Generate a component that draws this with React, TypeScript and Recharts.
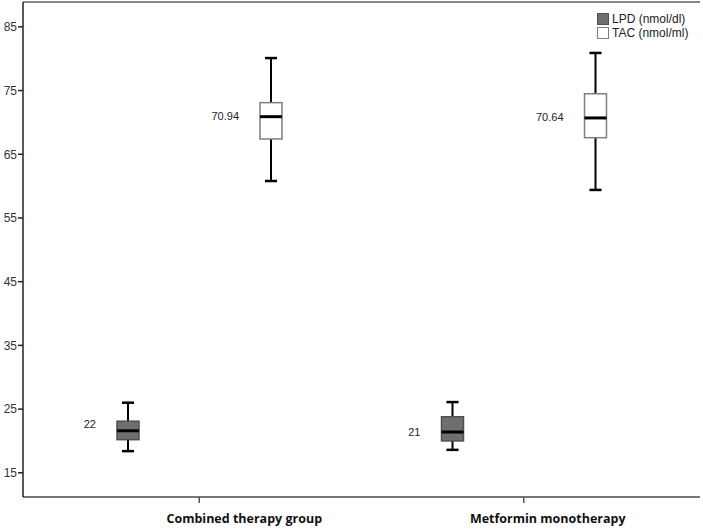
import React from "react"
import {
  ComposedChart,
  Bar,
  XAxis,
  YAxis,
  Legend,
  ReferenceLine,
} from "recharts"

// groups and box plot statistics
const groups = ["Combined therapy group", "Metformin monotherapy"]

const lpdMin = [18.4, 18.6]
const lpdQ1 = [20.2, 20.0]
const lpdMedian = [21.6, 21.4]
const lpdQ3 = [23.1, 23.8]
const lpdMax = [26.0, 26.1]
const lpdLabels = ["22", "21"]

const tacMin = [60.8, 59.4]
const tacQ1 = [67.4, 67.6]
const tacMedian = [70.9, 70.7]
const tacQ3 = [73.1, 74.5]
const tacMax = [80.1, 80.9]
const tacLabels = ["70.94", "70.64"]

const yTicks = [15, 25, 35, 45, 55, 65, 75, 85]
const yDomain = [11.2, 88.9]

const series = [
  { key: "lpd", name: "LPD (nmol/dl)", fill: "#6f6f6f", stroke: "#505050" },
  { key: "tac", name: "TAC (nmol/ml)", fill: "#ffffff", stroke: "#7f7f7f" },
]

const data = groups.map((g, i) => ({
  group: g,
  lpd: [lpdMin[i], lpdMax[i]],
  tac: [tacMin[i], tacMax[i]],
  lpdStats: { min: lpdMin[i], q1: lpdQ1[i], med: lpdMedian[i], q3: lpdQ3[i], max: lpdMax[i], label: lpdLabels[i] },
  tacStats: { min: tacMin[i], q1: tacQ1[i], med: tacMedian[i], q3: tacQ3[i], max: tacMax[i], label: tacLabels[i] },
}))

// label offsets from the tick (the original places them off-centre)
const labelShift = [45, 24]

function makeBoxShape(statsKey: string, fill: string, stroke: string, labelDy: number[]) {
  return (props: any) => {
    const { x, y, width, height, payload, index } = props
    const s = payload[statsKey]
    const top = Math.min(y, y + height)
    const h = Math.abs(height)
    const pxPer = h / (s.max - s.min)
    const toY = (v: number) => top + (s.max - v) * pxPer
    const cx = x + width / 2
    const capW = width * 0.55
    const yQ1 = toY(s.q1)
    const yQ3 = toY(s.q3)
    const yMed = toY(s.med)
    return (
      <g>
        <line x1={cx} x2={cx} y1={top} y2={yQ3} stroke="#000" strokeWidth={2} />
        <line x1={cx} x2={cx} y1={yQ1} y2={top + h} stroke="#000" strokeWidth={2} />
        <line x1={cx - capW / 2} x2={cx + capW / 2} y1={top} y2={top} stroke="#000" strokeWidth={2.5} />
        <line x1={cx - capW / 2} x2={cx + capW / 2} y1={top + h} y2={top + h} stroke="#000" strokeWidth={2.5} />
        <rect x={x} y={yQ3} width={width} height={yQ1 - yQ3} fill={fill} stroke={stroke} strokeWidth={1.5} />
        <line x1={x} x2={x + width} y1={yMed} y2={yMed} stroke="#000" strokeWidth={3} />
        <text
          x={x - 21}
          y={yMed + (labelDy[index] || 0)}
          textAnchor="end"
          dominantBaseline="central"
          fontSize={11}
          fontFamily="Liberation Sans, Arial, sans-serif"
          fill="#222"
        >
          {s.label}
        </text>
      </g>
    )
  }
}

const CategoryTick = (props: any) => {
  const { x, y, payload, index } = props
  return (
    <text
      x={x + (labelShift[index] || 0)}
      y={y + 18}
      textAnchor="middle"
      fontSize={12.5}
      fontWeight={700}
      fontFamily="Open Sans, sans-serif"
      fill="#111"
    >
      {payload.value}
    </text>
  )
}

const LegendBox = () => (
  <div style={{ fontFamily: "Liberation Sans, Arial, sans-serif", fontSize: 12, color: "#222", lineHeight: "14px" }}>
    {series.map((s) => (
      <div key={s.key} style={{ display: "flex", alignItems: "center" }}>
        <span
          style={{
            display: "inline-block",
            width: 10,
            height: 10,
            background: s.fill,
            border: `1px solid ${s.stroke}`,
            marginRight: 3,
          }}
        />
        {s.name}
      </div>
    ))}
  </div>
)

export default function App() {
  return (
    <div style={{ position: "absolute", left: 0, top: 0, background: "#fff" }}>
      <ComposedChart
        width={703}
        height={531}
        data={data}
        margin={{ top: 2, right: 3, bottom: 0, left: 0 }}
        barSize={22}
        barGap={121}
      >
        <XAxis
          dataKey="group"
          type="category"
          padding={{ left: 14, right: 14 }}
          height={34}
          axisLine={{ stroke: "#777", strokeWidth: 2 }}
          tickLine={{ stroke: "#555", strokeWidth: 1.5 }}
          tickSize={6}
          tick={<CategoryTick />}
          interval={0}
        />
        <XAxis xAxisId="top" dataKey="group" orientation="top" height={0} tick={false} tickLine={false} axisLine={{ stroke: "#888", strokeWidth: 2 }} />
        <YAxis
          type="number"
          domain={yDomain}
          ticks={yTicks}
          width={23}
          allowDataOverflow
          axisLine={{ stroke: "#222", strokeWidth: 1.5 }}
          tickLine={{ stroke: "#222", strokeWidth: 1.5 }}
          tickSize={5}
          tickMargin={1}
          tick={{ fontSize: 12, fill: "#333", fontFamily: "Liberation Sans, Arial, sans-serif" }}
        />
        <YAxis yAxisId="right" orientation="right" domain={yDomain} width={0} tick={false} tickLine={false} axisLine={{ stroke: "#888", strokeWidth: 2 }} />
        <ReferenceLine y={yDomain[1]} stroke="#888" strokeWidth={2} />
        <Legend
          layout="horizontal"
          verticalAlign="middle"
          align="center"
          wrapperStyle={{ top: 12, left: 597, width: 104 }}
          content={<LegendBox />}
        />
        <Bar
          dataKey="lpd"
          name="LPD (nmol/dl)"
          fill="#6f6f6f"
          isAnimationActive={false}
          shape={makeBoxShape("lpdStats", "#6f6f6f", "#505050", [-7, 0])}
        />
        <Bar
          dataKey="tac"
          name="TAC (nmol/ml)"
          fill="#fff"
          isAnimationActive={false}
          shape={makeBoxShape("tacStats", "#ffffff", "#7f7f7f", [-1, -1])}
        />
      </ComposedChart>
    </div>
  )
}
